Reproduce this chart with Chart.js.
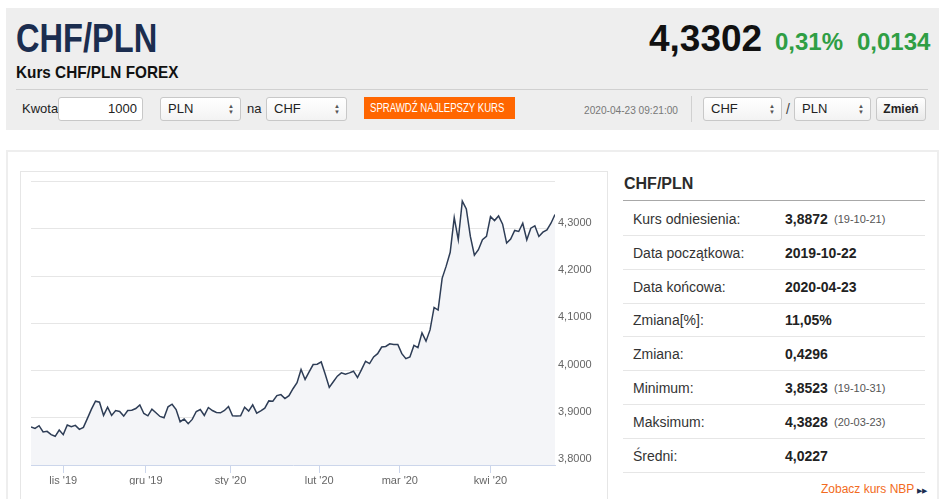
<!DOCTYPE html>
<html lang="pl">
<head>
<meta charset="utf-8">
<script src="https://cdn.jsdelivr.net/npm/chart.js@4.4.1/dist/chart.umd.min.js"></script>
<style>
  body { margin: 0; width: 945px; height: 499px; overflow: hidden; background: #fff;
         font-family: "Liberation Sans", Arial, sans-serif; position: relative; color: #333; }
  .a { position: absolute; white-space: nowrap; }
  .sq { display: inline-block; transform-origin: 0 0; }
  #head { left: 6px; top: 8px; width: 933px; height: 122px; background: #eee; }
  .box { background: #fff; border: 1px solid #c8c8c8; border-radius: 3px; box-sizing: border-box;
         height: 24px; top: 97px; font-size: 13px; line-height: 22px; color: #222; }
  .sel { background: linear-gradient(#fff, #f3f3f3); }
  .arr { position: absolute; right: 6px; top: 5px; font-size: 6px; line-height: 6px; color: #555; }
  .row { left: 623px; width: 302px; height: 34px; line-height: 34px; border-bottom: 1px solid #e6e6e6;
         box-sizing: border-box; font-size: 14px; }
  .row .l { position: absolute; left: 10px; color: #333; }
  .row .v { position: absolute; left: 162px; font-weight: bold; color: #222; }
  .row .d { position: absolute; left: 211px; font-size: 11px; color: #555; }
</style>
</head>
<body>
<div class="a" id="head"></div>
<div class="a" style="left:16px;top:18px;font-size:40px;line-height:40px;font-weight:bold;color:#1b2d4f;"><span class="sq" style="transform:scaleX(0.815);">CHF/PLN</span></div>
<div class="a" style="left:16px;top:64px;font-size:17px;line-height:17px;font-weight:bold;color:#111;"><span class="sq" style="transform:scaleX(0.9);">Kurs CHF/PLN FOREX</span></div>
<div class="a" style="left:649px;top:20px;font-size:37px;line-height:37px;font-weight:bold;color:#111;">4,3302</div>
<div class="a" style="left:775px;top:30px;font-size:24px;line-height:24px;font-weight:bold;color:#2f9e44;">0,31%</div>
<div class="a" style="left:857px;top:30px;font-size:24px;line-height:24px;font-weight:bold;color:#2f9e44;">0,0134</div>
<div class="a" style="left:16px;top:89px;width:912px;height:1px;background:#d0d0d0;"></div>

<div class="a" style="left:22px;top:97px;font-size:13px;line-height:24px;color:#222;">Kwota</div>
<div class="a box" style="left:58px;width:85px;text-align:right;padding-right:5px;">1000</div>
<div class="a box sel" style="left:160px;width:81px;padding-left:7px;">PLN<span class="arr">▲<br>▼</span></div>
<div class="a" style="left:247px;top:97px;font-size:13px;line-height:24px;color:#222;">na</div>
<div class="a box sel" style="left:266px;width:81px;padding-left:7px;">CHF<span class="arr">▲<br>▼</span></div>
<div class="a" style="left:364px;top:97px;width:151px;height:22px;background:#ff6600;color:#fff;font-size:12px;line-height:22px;"><span class="sq" style="position:absolute;left:6px;transform:scaleX(0.8);">SPRAWDŹ NAJLEPSZY KURS</span></div>
<div class="a" style="left:584px;top:97px;font-size:11.5px;line-height:26px;color:#777;"><span class="sq" style="transform:scaleX(0.88);">2020-04-23 09:21:00</span></div>
<div class="a" style="left:691px;top:96px;width:1px;height:26px;background:#d0d0d0;"></div>
<div class="a box sel" style="left:703px;width:79px;padding-left:7px;">CHF<span class="arr">▲<br>▼</span></div>
<div class="a" style="left:786px;top:97px;font-size:14px;line-height:24px;color:#444;">/</div>
<div class="a box sel" style="left:794px;width:77px;padding-left:7px;">PLN<span class="arr">▲<br>▼</span></div>
<div class="a box" style="left:876px;width:50px;background:linear-gradient(#fff,#e9e9e9);text-align:center;font-weight:bold;font-size:12px;">Zmień</div>

<div class="a" style="left:6px;top:150px;width:933px;height:400px;border:2px solid #eee;box-sizing:border-box;"></div>
<div class="a" style="left:20px;top:171px;width:588px;height:400px;border:1px solid #e6e6e6;box-sizing:border-box;"></div>
<div class="a" style="left:21px;top:172px;width:586px;height:327px;"><canvas id="chart"></canvas></div>

<div class="a" style="left:624px;top:174px;font-size:16px;line-height:20px;font-weight:bold;color:#2b2b2b;">CHF/PLN</div>
<div class="a" style="left:623px;top:200px;width:302px;height:1px;background:#a8a8a8;"></div>
<div id="table"></div>
<div class="a" style="left:821px;top:481px;font-size:12px;line-height:16px;color:#f26b21;">Zobacz kurs NBP <span style="font-size:7px;color:#1b2d4f;">▶▶</span></div>

<script>
// trading days shown on the chart (weekdays, no 25.12 and 1.01)
const dates = [
  '2019-10-22','2019-10-23','2019-10-24','2019-10-25','2019-10-28','2019-10-29','2019-10-30','2019-10-31',
  '2019-11-01','2019-11-04','2019-11-05','2019-11-06','2019-11-07','2019-11-08','2019-11-11','2019-11-12',
  '2019-11-13','2019-11-14','2019-11-15','2019-11-18','2019-11-19','2019-11-20','2019-11-21','2019-11-22',
  '2019-11-25','2019-11-26','2019-11-27','2019-11-28','2019-11-29',
  '2019-12-02','2019-12-03','2019-12-04','2019-12-05','2019-12-06','2019-12-09','2019-12-10','2019-12-11',
  '2019-12-12','2019-12-13','2019-12-16','2019-12-17','2019-12-18','2019-12-19','2019-12-20','2019-12-23',
  '2019-12-24','2019-12-26','2019-12-27','2019-12-30','2019-12-31',
  '2020-01-02','2020-01-03','2020-01-06','2020-01-07','2020-01-08','2020-01-09','2020-01-10','2020-01-13',
  '2020-01-14','2020-01-15','2020-01-16','2020-01-17','2020-01-20','2020-01-21','2020-01-22','2020-01-23',
  '2020-01-24','2020-01-27','2020-01-28','2020-01-29','2020-01-30','2020-01-31',
  '2020-02-03','2020-02-04','2020-02-05','2020-02-06','2020-02-07','2020-02-10','2020-02-11','2020-02-12',
  '2020-02-13','2020-02-14','2020-02-17','2020-02-18','2020-02-19','2020-02-20','2020-02-21','2020-02-24',
  '2020-02-25','2020-02-26','2020-02-27','2020-02-28',
  '2020-03-02','2020-03-03','2020-03-04','2020-03-05','2020-03-06','2020-03-09','2020-03-10','2020-03-11',
  '2020-03-12','2020-03-13','2020-03-16','2020-03-17','2020-03-18','2020-03-19','2020-03-20','2020-03-23',
  '2020-03-24','2020-03-25','2020-03-26','2020-03-27','2020-03-30','2020-03-31',
  '2020-04-01','2020-04-02','2020-04-03','2020-04-06','2020-04-07','2020-04-08','2020-04-09','2020-04-10',
  '2020-04-13','2020-04-14','2020-04-15','2020-04-16','2020-04-17','2020-04-20','2020-04-21','2020-04-22',
  '2020-04-23'
];

// CHF/PLN close
const rates = [
  3.8804, 3.8776, 3.8832, 3.8699, 3.8713, 3.8643, 3.8608, 3.8741,
  3.8643, 3.8846, 3.8811, 3.8839, 3.8755, 3.8797, 3.8986, 3.9182, 3.9350, 3.9329, 3.9049, 3.9224,
  3.9049, 3.9154, 3.9133, 3.9035, 3.9154, 3.9161, 3.9196, 3.9273, 3.9091,
  3.9042, 3.9182, 3.9105, 3.9028, 3.9000, 3.9231, 3.9287, 3.9175, 3.8916, 3.8972, 3.8874, 3.8965,
  3.9133, 3.9175, 3.9049, 3.9217, 3.9154, 3.9112, 3.9105, 3.9154, 3.9238,
  3.9042, 3.9035, 3.9042, 3.9224, 3.9140, 3.9273, 3.9098, 3.9147, 3.9203, 3.9357, 3.9350, 3.9469,
  3.9490, 3.9406, 3.9469, 3.9615, 3.9741, 4.0021, 3.9811, 3.9972, 4.0126, 4.0133,
  4.0182, 3.9923, 3.9643, 3.9762, 3.9881, 3.9951, 3.9923, 3.9951, 3.9986, 3.9853, 4.0021, 4.0196,
  4.0147, 4.0287, 4.0357, 4.0497, 4.0510, 4.0566, 4.0552, 4.0552,
  4.0357, 4.0252, 4.0287, 4.0531, 4.0483, 4.0797, 4.0622, 4.0860, 4.1336, 4.1280, 4.1951, 4.2210,
  4.2503, 4.3238, 4.2769, 4.3587, 4.3420, 4.2839, 4.2441, 4.2559, 4.2769, 4.2839,
  4.3259, 4.3175, 4.3273, 4.3098, 4.2699, 4.2783, 4.2965, 4.2944, 4.3119, 4.2769, 4.3014, 4.3063,
  4.2839, 4.2930, 4.2979, 4.3119, 4.3302
];

const months = ['2019-11', '2019-12', '2020-01', '2020-02', '2020-03', '2020-04'];
const monthLabels = ["lis '19", "gru '19", "sty '20", "lut '20", "mar '20", "kwi '20"];
const yTicks = [3.8, 3.9, 4.0, 4.1, 4.2, 4.3, 4.4];

const statLabels = ['Kurs odniesienia:', 'Data początkowa:', 'Data końcowa:', 'Zmiana[%]:', 'Zmiana:', 'Minimum:', 'Maksimum:', 'Średni:'];
const statValues = ['3,8872', '2019-10-22', '2020-04-23', '11,05%', '0,4296', '3,8523', '4,3828', '4,0227'];
const statDates = ['(19-10-21)', '', '', '', '', '(19-10-31)', '(20-03-23)', ''];

// side table
const table = document.getElementById('table');
statLabels.forEach((lab, i) => {
  const r = document.createElement('div');
  r.className = 'a row';
  r.style.top = (202 + i * 33.8) + 'px';
  r.innerHTML = '<span class="l">' + lab + '</span><span class="v">' + statValues[i] + '</span>' +
    (statDates[i] ? '<span class="d">' + statDates[i] + '</span>' : '');
  table.appendChild(r);
});

// month tick = first trading day of month, half a step earlier when the 1st is not a trading day
const tickPos = months.map(m => {
  const i = dates.findIndex(d => d >= m + '-01');
  return dates[i] === m + '-01' ? i : i - 0.5;
});

const ctx = document.getElementById('chart');
new Chart(ctx, {
  type: 'line',
  data: {
    datasets: [{
      data: rates.map((v, i) => ({ x: i, y: v })),
      borderColor: '#2e3d56',
      borderWidth: 1.5,
      backgroundColor: '#f4f5f8',
      fill: 'start',
      pointRadius: 0,
      tension: 0
    }]
  },
  options: {
    responsive: true,
    maintainAspectRatio: false,
    animation: false,
    layout: { padding: { left: 10, top: 9, right: 0, bottom: 14 } },
    plugins: { legend: { display: false }, tooltip: { enabled: false } },
    scales: {
      x: {
        type: 'linear',
        min: 0,
        max: rates.length - 1,
        afterBuildTicks: s => { s.ticks = tickPos.map(v => ({ value: v })); },
        afterFit: s => { s.height = 20; },
        grid: { drawOnChartArea: false, drawTicks: true, tickLength: 8, color: '#ccd6eb' },
        border: { display: true, color: '#ccd6eb' },
        ticks: {
          autoSkip: false, maxRotation: 0, padding: 1, color: '#666',
          font: { size: 11, family: 'Liberation Sans' },
          callback: v => monthLabels[tickPos.indexOf(v)]
        }
      },
      y: {
        position: 'right',
        min: 3.8,
        max: 4.4,
        afterBuildTicks: s => { s.ticks = yTicks.map(v => ({ value: v })); },
        afterFit: s => { s.width = 52; },
        grid: { drawTicks: false, color: c => c.tick && c.tick.value === 3.8 ? 'rgba(0,0,0,0)' : '#e6e6e6' },
        border: { display: false },
        ticks: {
          padding: 3, labelOffset: -6, color: '#666',
          font: { size: 11, family: 'Liberation Sans' },
          callback: v => v === 4.4 ? '' : v.toFixed(4).replace('.', ',')
        }
      }
    }
  }
});
</script>
</body>
</html>
